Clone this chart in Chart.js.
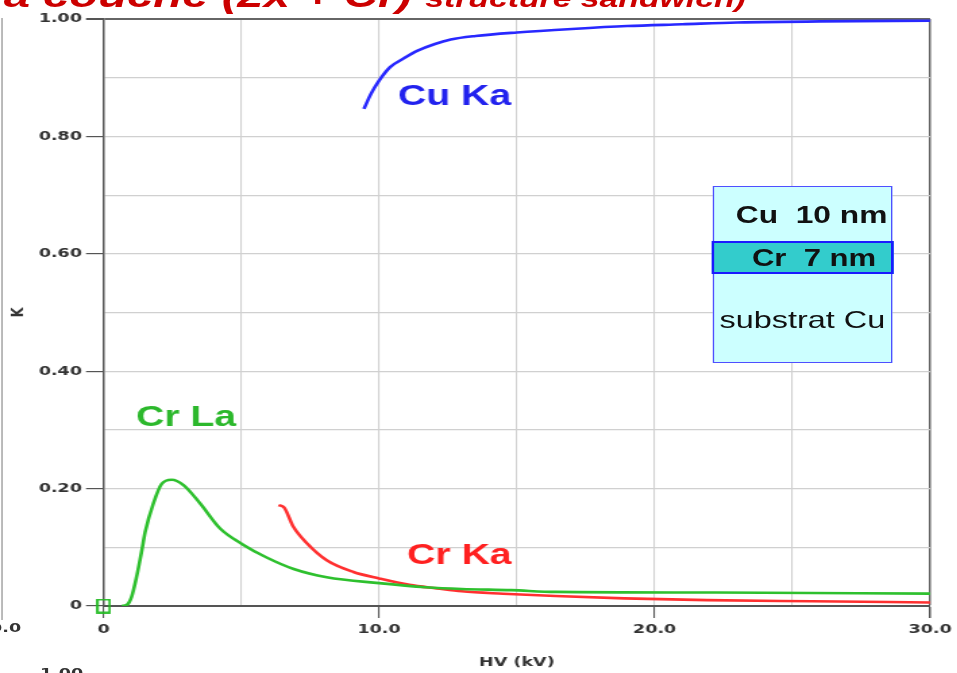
<!DOCTYPE html>
<html>
<head>
<meta charset="utf-8">
<title>K en fonction de HV - Cu 10 nm / Cr 7 nm / substrat Cu</title>
<script src="https://cdn.jsdelivr.net/npm/chart.js@4.4.0/dist/chart.umd.min.js"></script>
<style>
  html, body { margin: 0; padding: 0; background: #fff; overflow: hidden; }
  body { width: 957px; height: 673px; position: relative; }
  /* the whole figure is laid out narrow and widened by 1.35 */
  #stage { position: absolute; left: 0; top: 0; width: 709px; height: 673px;
           transform: scaleX(1.35); transform-origin: 0 0; overflow: visible; }
  #chart { position: absolute; left: 0; top: 0; }
  #headline { position: absolute; left: -7px; top: -23px; white-space: pre; color: #cc0000;
              font: italic bold 35px "Liberation Sans", Arial, sans-serif; line-height: 35px; }
  #headline .small { font-size: 25px; }
  #edge { position: absolute; left: 0.7px; top: 18px; width: 1.5px; height: 602px; background: #9a9a9a; }
  .edge-label { position: absolute; font: bold 13px "DejaVu Sans", Verdana, sans-serif; line-height: 13px;
                color: #333; white-space: pre; }
  #layers { position: absolute; left: 528px; top: 186px; width: 133px; height: 177px;
            box-sizing: border-box; border: 1.6px solid #4f4fff; background: #ccffff; }
  #layers .band { position: absolute; left: -1.6px; right: -1.6px; top: 54px; height: 33px;
                  box-sizing: border-box; border: 2px solid #1a1aff; background: #33cccc; }
  #layers .txt { position: absolute; white-space: pre; color: #111;
                 font-family: "Liberation Sans", Arial, sans-serif; }
</style>
</head>
<body>
<div id="stage">
  <div id="headline"><span>la couche (2x + Cr) </span><span class="small">structure sandwich)</span></div>
  <div id="edge"></div>
  <div class="edge-label" style="left:-16.4px; top:621px;">30.0</div>
  <div class="edge-label" style="left:29.6px; top:666px;">1.00</div>
  <canvas id="chart" width="709" height="673"></canvas>
  <div id="layers">
    <div class="band"></div>
    <div class="txt" style="left:16px; top:17px; font-size:23.5px; line-height:23px; font-weight:bold;">Cu  10 nm</div>
    <div class="txt" style="left:28px; top:59.5px; font-size:23px; line-height:23px; font-weight:bold;">Cr  7 nm</div>
    <div class="txt" style="left:4px; top:121px; font-size:24px; line-height:24px;">substrat Cu</div>
  </div>
</div>
<script>
// K versus accelerating voltage HV (kV) for each X-ray line
const cuKaKV = [9.45, 9.7, 10.0, 10.4, 10.9, 11.4, 12.0, 12.6, 13.5, 15.0, 17.0, 19.0, 21.0, 23.0, 26.0, 30.0];
const cuKaK  = [0.847, 0.872, 0.895, 0.918, 0.933, 0.946, 0.957, 0.965, 0.971, 0.977, 0.983, 0.988, 0.991, 0.994, 0.996, 0.997];

const crLaKV = [0.66, 0.85, 1.02, 1.2, 1.39, 1.51, 1.81, 2.11, 2.47, 2.9, 3.5, 4.23, 5.08, 5.9, 6.9, 8.1, 10.0, 11.7, 13.0, 14.8, 16.4, 22.2, 30.0];
const crLaK  = [0, 0.002, 0.016, 0.05, 0.095, 0.126, 0.175, 0.208, 0.215, 0.206, 0.175, 0.132, 0.104, 0.083, 0.063, 0.049, 0.039, 0.032, 0.029, 0.027, 0.024, 0.023, 0.021];

const crKaKV = [6.35, 6.55, 6.89, 7.38, 8.1, 9.07, 10.0, 11.1, 12.1, 13.0, 14.5, 16.4, 18.9, 21.9, 25.7, 30.0];
const crKaK  = [0.172, 0.168, 0.135, 0.107, 0.078, 0.058, 0.047, 0.036, 0.030, 0.025, 0.021, 0.017, 0.013, 0.010, 0.008, 0.006];

// origin marker
const originKV = [0];
const originK  = [0];

// labelled ticks
const xTickValues = [0, 10, 20, 30];
const xTickLabels = ['0', '10.0', '20.0', '30.0'];
const yTickValues = [0, 0.2, 0.4, 0.6, 0.8, 1.0];
const yTickLabels = ['0', '0.20', '0.40', '0.60', '0.80', '1.00'];

// curve names written next to each line
const curveNames  = ['Cu Ka', 'Cr La', 'Cr Ka'];
const curveColors = ['#2222ee', '#2cb82c', '#ff2020'];
const nameAnchors = [[10.69, 0.871], [1.18, 0.324], [11.02, 0.090]];

const tickFont = { family: '"DejaVu Sans", Verdana, sans-serif', size: 13, weight: 'bold' };

function toPoints(xs, ys) {
    return xs.map((x, i) => ({ x: x, y: ys[i] }));
}

function labelFor(values, labels, v) {
    const i = values.findIndex(t => Math.abs(t - v) < 1e-6);
    return i >= 0 ? labels[i] : '';
}

function isLabelled(values, v) {
    return values.some(t => Math.abs(t - v) < 1e-6);
}

// hollow green square for the point at the origin
function squareMarker() {
    const c = document.createElement('canvas');
    c.width = 11;
    c.height = 15;
    const g = c.getContext('2d');
    g.strokeStyle = '#22bb22';
    g.lineWidth = 1.8;
    g.strokeRect(1, 1, 9, 13);
    return c;
}

// writes the line names at data coordinates
const curveNamePlugin = {
    id: 'curveNames',
    afterDatasetsDraw(chart) {
        const { ctx, scales } = chart;
        ctx.save();
        ctx.font = 'bold 29px "Liberation Sans", Arial, sans-serif';
        ctx.textAlign = 'left';
        ctx.textBaseline = 'alphabetic';
        curveNames.forEach((name, i) => {
            const x = scales.x.getPixelForValue(nameAnchors[i][0]);
            const y = scales.y.getPixelForValue(nameAnchors[i][1]) + 29 * 0.36;
            ctx.fillStyle = curveColors[i];
            ctx.fillText(name, x, y);
        });
        ctx.restore();
    }
};

const lineStyle = { borderWidth: 2.6, pointRadius: 0, fill: false, cubicInterpolationMode: 'monotone' };

new Chart(document.getElementById('chart'), {
    type: 'line',
    data: {
        datasets: [
            Object.assign({ label: 'Cu Ka', data: toPoints(cuKaKV, cuKaK), borderColor: '#2828ff' }, lineStyle),
            Object.assign({ label: 'Cr La', data: toPoints(crLaKV, crLaK), borderColor: '#2ec02e' }, lineStyle),
            Object.assign({ label: 'Cr Ka', data: toPoints(crKaKV, crKaK), borderColor: '#ff3030' }, lineStyle),
            {
                label: 'origine',
                data: toPoints(originKV, originK),
                showLine: false,
                pointStyle: squareMarker(),
                pointRadius: 7,
                clip: false
            }
        ]
    },
    options: {
        responsive: false,
        animation: false,
        events: [],
        layout: { padding: { left: 0, top: 19, right: 20, bottom: 0 } },
        plugins: { legend: { display: false }, tooltip: { enabled: false } },
        scales: {
            x: {
                type: 'linear',
                min: 0,
                max: 30,
                afterFit(scale) { scale.height = 67; },
                border: { color: '#555', width: 2 },
                grid: {
                    color: c => c.tick.value === 30 ? '#666' : '#d0d0d0',
                    lineWidth: c => c.tick.value === 30 ? 1.5 : 1.1,
                    tickColor: c => isLabelled(xTickValues, c.tick.value) ? '#555' : 'rgba(0,0,0,0)',
                    tickLength: 12
                },
                ticks: {
                    stepSize: 5,
                    autoSkip: false,
                    maxRotation: 0,
                    padding: 4,
                    color: '#333',
                    font: tickFont,
                    callback: v => labelFor(xTickValues, xTickLabels, v)
                },
                title: {
                    display: true,
                    text: 'HV (kV)',
                    color: '#333',
                    font: tickFont,
                    padding: { top: 0, bottom: 3 }
                }
            },
            y: {
                type: 'linear',
                min: 0,
                max: 1,
                afterFit(scale) { scale.width = 76.7; },
                border: { color: '#555', width: 1.5 },
                grid: {
                    color: c => Math.abs(c.tick.value - 1) < 1e-6 ? '#666' : '#d0d0d0',
                    lineWidth: c => Math.abs(c.tick.value - 1) < 1e-6 ? 2 : 1.2,
                    tickColor: c => isLabelled(yTickValues, c.tick.value) ? '#555' : 'rgba(0,0,0,0)',
                    tickLength: 13
                },
                ticks: {
                    stepSize: 0.1,
                    autoSkip: false,
                    padding: 3,
                    color: '#333',
                    font: tickFont,
                    callback: v => labelFor(yTickValues, yTickLabels, v)
                },
                title: {
                    display: true,
                    text: 'K',
                    color: '#333',
                    font: tickFont,
                    padding: { top: 6, bottom: 0 }
                }
            }
        }
    },
    plugins: [curveNamePlugin]
});
</script>
</body>
</html>
